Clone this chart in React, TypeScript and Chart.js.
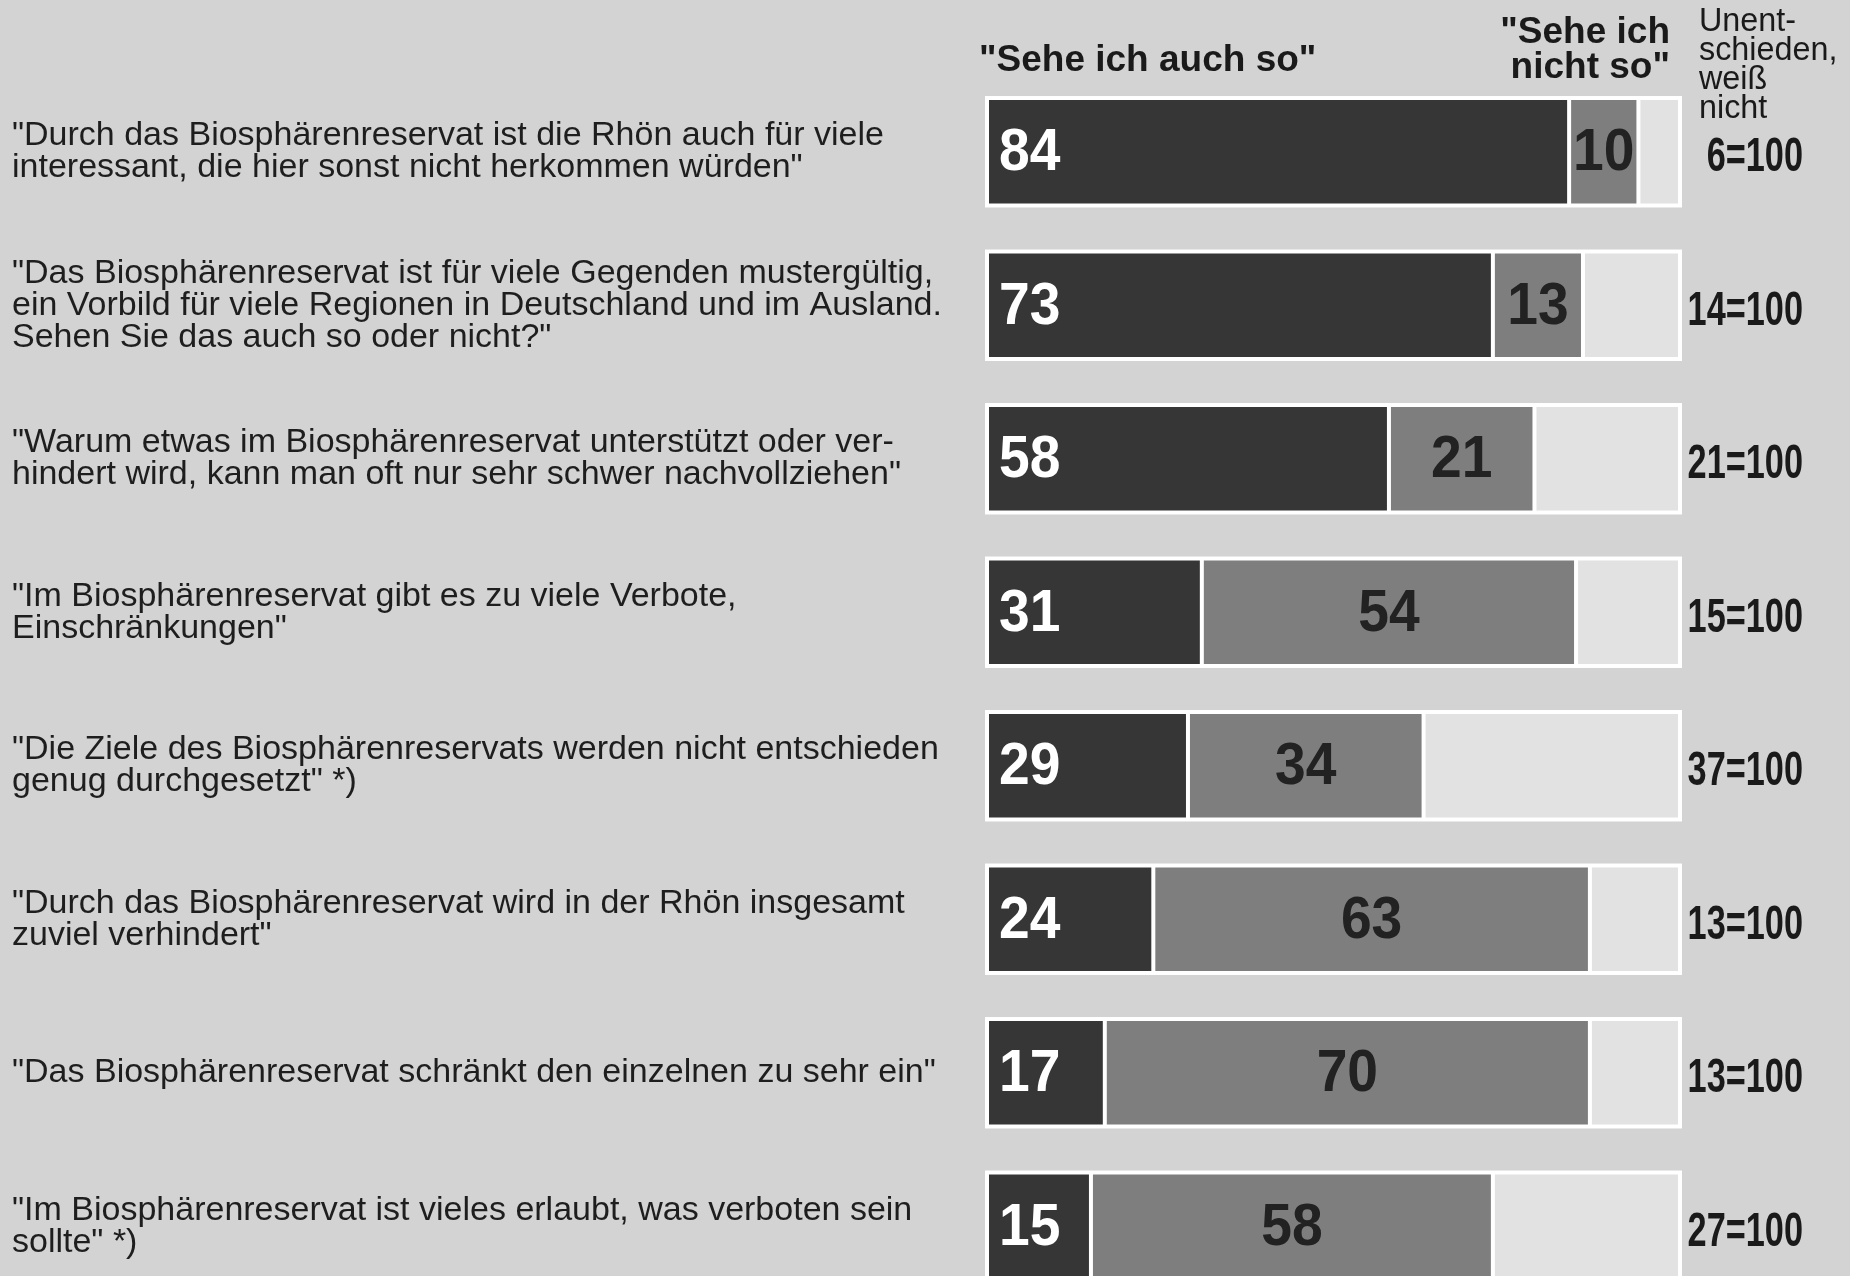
import React, { useEffect, useRef } from "react";
import { Chart, registerables } from "chart.js";

Chart.register(...registerables);

const questions: (string | string[])[] = [
  ['"Durch das Biosphärenreservat ist die Rhön auch für viele', 'interessant, die hier sonst nicht herkommen würden"'],
  ['"Das Biosphärenreservat ist für viele Gegenden mustergültig,', 'ein Vorbild für viele Regionen in Deutschland und im Ausland.', 'Sehen Sie das auch so oder nicht?"'],
  ['"Warum etwas im Biosphärenreservat unterstützt oder ver-', 'hindert wird, kann man oft nur sehr schwer nachvollziehen"'],
  ['"Im Biosphärenreservat gibt es zu viele Verbote,', 'Einschränkungen"'],
  ['"Die Ziele des Biosphärenreservats werden nicht entschieden', 'genug durchgesetzt" *)'],
  ['"Durch das Biosphärenreservat wird in der Rhön insgesamt', 'zuviel verhindert"'],
  '"Das Biosphärenreservat schränkt den einzelnen zu sehr ein"',
  ['"Im Biosphärenreservat ist vieles erlaubt, was verboten sein', 'sollte" *)'],
];

const agree = [84, 73, 58, 31, 29, 24, 17, 15];
const disagree = [10, 13, 21, 54, 34, 63, 70, 58];
const undecided = [6, 14, 21, 15, 37, 13, 13, 27];

const seriesNames = ['"Sehe ich auch so"', '"Sehe ich nicht so"', "Unentschieden, weiß nicht"];
const headerAgree = '"Sehe ich auch so"';
const headerDisagree = ['"Sehe ich', 'nicht so"'];
const headerUndecided = ["Unent-", "schieden,", "weiß", "nicht"];
const totalSuffix = "=100";

const BG = "#d3d3d3";
const DARK = "#363636";
const MID = "#7e7e7e";
const LIGHT = "#e2e2e2";
const TEXT = "#1e1e1e";
const FONT = '"Liberation Sans", Arial, sans-serif';

function drawScaled(
  ctx: CanvasRenderingContext2D,
  text: string,
  x: number,
  y: number,
  align: CanvasTextAlign,
  color: string,
  font: string,
  sx: number
) {
  ctx.save();
  ctx.translate(x, y);
  ctx.scale(sx, 1);
  ctx.font = font;
  ctx.fillStyle = color;
  ctx.textAlign = align;
  ctx.textBaseline = "middle";
  ctx.fillText(text, 0, 0);
  ctx.restore();
}

const framePlugin = {
  id: "frame",
  beforeDatasetsDraw(chart: any) {
    const ctx = chart.ctx as CanvasRenderingContext2D;
    const xs = chart.scales.x;
    const meta = chart.getDatasetMeta(0);
    const x0 = xs.getPixelForValue(0);
    const x1 = xs.getPixelForValue(100);
    ctx.save();
    ctx.fillStyle = "#ffffff";
    meta.data.forEach((el: any) => {
      const p = el.getProps(["y", "height"], true);
      ctx.fillRect(x0 - 2, p.y - p.height / 2 - 2, x1 - x0 + 4, p.height + 4);
    });
    ctx.restore();
  },
};

const labelPlugin = {
  id: "valueLabels",
  afterDatasetsDraw(chart: any) {
    const ctx = chart.ctx as CanvasRenderingContext2D;
    const m0 = chart.getDatasetMeta(0);
    const m1 = chart.getDatasetMeta(1);
    const valFont = `bold 60px ${FONT}`;
    m0.data.forEach((el: any, i: number) => {
      const p = el.getProps(["x", "y", "base"], true);
      drawScaled(ctx, String(agree[i]), Math.min(p.x, p.base) + 12, p.y + 2, "left", "#ffffff", valFont, 0.92);
    });
    m1.data.forEach((el: any, i: number) => {
      const p = el.getProps(["x", "y", "base"], true);
      drawScaled(ctx, String(disagree[i]), (p.x + p.base) / 2, p.y + 2, "center", "#222222", valFont, 0.92);
    });
    const totFont = `bold 49px ${FONT}`;
    m0.data.forEach((el: any, i: number) => {
      const p = el.getProps(["y"], true);
      drawScaled(ctx, `${undecided[i]}${totalSuffix}`, 1803, p.y + 6, "right", "#1a1a1a", totFont, 0.7);
    });
  },
  afterDraw(chart: any) {
    const ctx = chart.ctx as CanvasRenderingContext2D;
    ctx.save();
    ctx.fillStyle = "#1a1a1a";
    ctx.textBaseline = "middle";
    ctx.font = `bold 37px ${FONT}`;
    ctx.textAlign = "left";
    ctx.fillText(headerAgree, 979, 61);
    ctx.textAlign = "right";
    headerDisagree.forEach((t, i) => ctx.fillText(t, 1670, 33 + i * 35));
    ctx.restore();
    headerUndecided.forEach((t, i) =>
      drawScaled(ctx, t, 1699, 22 + i * 29, "left", "#1a1a1a", `33px ${FONT}`, 0.98)
    );
  },
};

export default function App() {
  const ref = useRef<HTMLCanvasElement | null>(null);

  useEffect(() => {
    if (!ref.current) return;
    const chart = new Chart(ref.current, {
      type: "bar",
      data: {
        labels: questions as any,
        datasets: [
          { label: seriesNames[0], data: agree, backgroundColor: DARK },
          { label: seriesNames[1], data: disagree, backgroundColor: MID },
          { label: seriesNames[2], data: undecided, backgroundColor: LIGHT },
        ].map((d) => ({
          ...d,
          borderColor: "#ffffff",
          borderWidth: 2,
          borderSkipped: false as any,
          barPercentage: 0.7,
          categoryPercentage: 1,
        })),
      },
      options: {
        indexAxis: "y",
        responsive: false,
        animation: false,
        devicePixelRatio: 1,
        layout: { padding: { left: 12, right: 170, top: 75, bottom: 47 } },
        plugins: { legend: { display: false }, tooltip: { enabled: false } },
        scales: {
          x: { stacked: true, min: 0, max: 100, display: false },
          y: {
            stacked: true,
            grid: { display: false },
            border: { display: false },
            ticks: {
              crossAlign: "far",
              color: TEXT,
              autoSkip: false,
              padding: 0,
              font: { family: FONT, size: 34, lineHeight: 0.94 },
            },
            afterFit: (s: any) => {
              s.width = 975;
            },
          },
        },
      },
      plugins: [framePlugin, labelPlugin],
    });
    return () => chart.destroy();
  }, []);

  return (
    <div
      style={{
        position: "absolute",
        left: 0,
        top: 0,
        width: 1850,
        height: 1276,
        overflow: "hidden",
        background: BG,
      }}
    >
      <canvas ref={ref} width={1850} height={1350} style={{ display: "block", width: 1850, height: 1350 }} />
    </div>
  );
}
